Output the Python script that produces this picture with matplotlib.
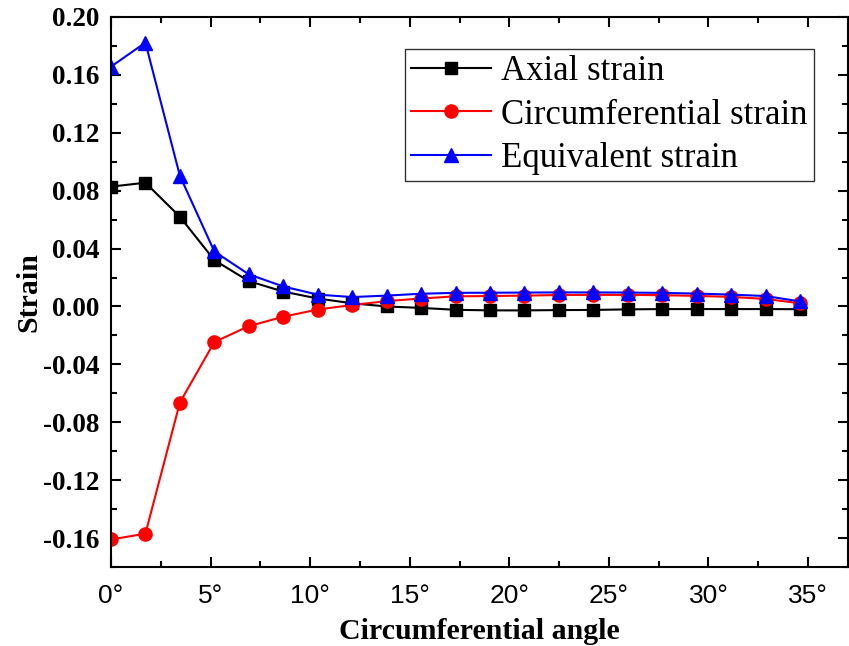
import matplotlib
matplotlib.use("Agg")
import matplotlib.pyplot as plt
from matplotlib.ticker import MultipleLocator, FuncFormatter

angles = [0.0, 1.73, 3.46, 5.19, 6.92, 8.65, 10.38, 12.11, 13.84, 15.57, 17.30,
          19.03, 20.76, 22.49, 24.22, 25.95, 27.68, 29.41, 31.14, 32.87, 34.60]
axial = [0.0828, 0.0855, 0.0620, 0.0320, 0.0175, 0.0103, 0.0055, 0.0022, 0.0000,
         -0.0010, -0.0023, -0.0027, -0.0027, -0.0025, -0.0024, -0.0020, -0.0018,
         -0.0018, -0.0018, -0.0018, -0.0019]
circumferential = [-0.1610, -0.1570, -0.0664, -0.0246, -0.0136, -0.0071, -0.0021,
                   0.0010, 0.0037, 0.0055, 0.0070, 0.0072, 0.0075, 0.0079, 0.0080,
                   0.0080, 0.0078, 0.0073, 0.0066, 0.0052, 0.0022]
equivalent = [0.1657, 0.1823, 0.0903, 0.0380, 0.0222, 0.0138, 0.0082, 0.0065,
              0.0075, 0.0088, 0.0094, 0.0095, 0.0096, 0.0097, 0.0097, 0.0096,
              0.0094, 0.0089, 0.0082, 0.0072, 0.0035]
labels = ["Axial strain", "Circumferential strain", "Equivalent strain"]

fig = plt.figure(figsize=(8.49, 6.46), dpi=100)
ax = fig.add_axes([0.1307, 0.1223, 0.868, 0.8514])

ax.plot(angles, axial, color="black", marker="s", markersize=8, linewidth=1.5,
        label=labels[0])
ax.plot(angles, circumferential, color="red", marker="o", markersize=9.5,
        linewidth=1.5, label=labels[1])
ax.plot(angles, equivalent, color="blue", marker="^", markersize=10,
        linewidth=1.5, label=labels[2])

ax.set_xlim(0, 37)
ax.set_ylim(-0.18, 0.20)
ax.xaxis.set_major_locator(MultipleLocator(5))
ax.xaxis.set_minor_locator(MultipleLocator(2.5))
ax.yaxis.set_major_locator(MultipleLocator(0.04))
ax.yaxis.set_minor_locator(MultipleLocator(0.02))
ax.xaxis.set_major_formatter(FuncFormatter(lambda v, p: f"{int(round(v))}\u00b0"))
ax.yaxis.set_major_formatter(FuncFormatter(lambda v, p: f"{v:.2f}"))

for s in ax.spines.values():
    s.set_linewidth(1.5)
ax.tick_params(which="both", direction="in", top=True, right=True, width=1.5)
ax.tick_params(which="major", length=7)
ax.tick_params(which="minor", length=4.3)
ax.tick_params(axis="x", which="major", pad=12.5)
ax.tick_params(axis="y", which="major", pad=8)

for t in ax.get_xticklabels():
    t.set_fontfamily("Liberation Sans")
    t.set_fontsize(19)
for t in ax.get_yticklabels():
    t.set_fontfamily("Liberation Serif")
    t.set_fontweight("bold")
    t.set_fontsize(19.5)

ax.set_xlabel("Circumferential angle", fontfamily="Liberation Serif",
              fontweight="bold", fontsize=21.5, labelpad=7)
ax.set_ylabel("Strain", fontfamily="Liberation Serif", fontweight="bold",
              fontsize=21.5, labelpad=1)

leg = ax.legend(loc="upper right", bbox_to_anchor=(0.954, 0.942),
                borderaxespad=0, fancybox=False, framealpha=1,
                edgecolor="#333333", handlelength=2.3, handletextpad=0.3,
                labelspacing=0.3, borderpad=0.18,
                prop={"family": "Liberation Serif", "size": 25})
leg.get_frame().set_linewidth(1.0)

fig.savefig("out.png", dpi=100)
